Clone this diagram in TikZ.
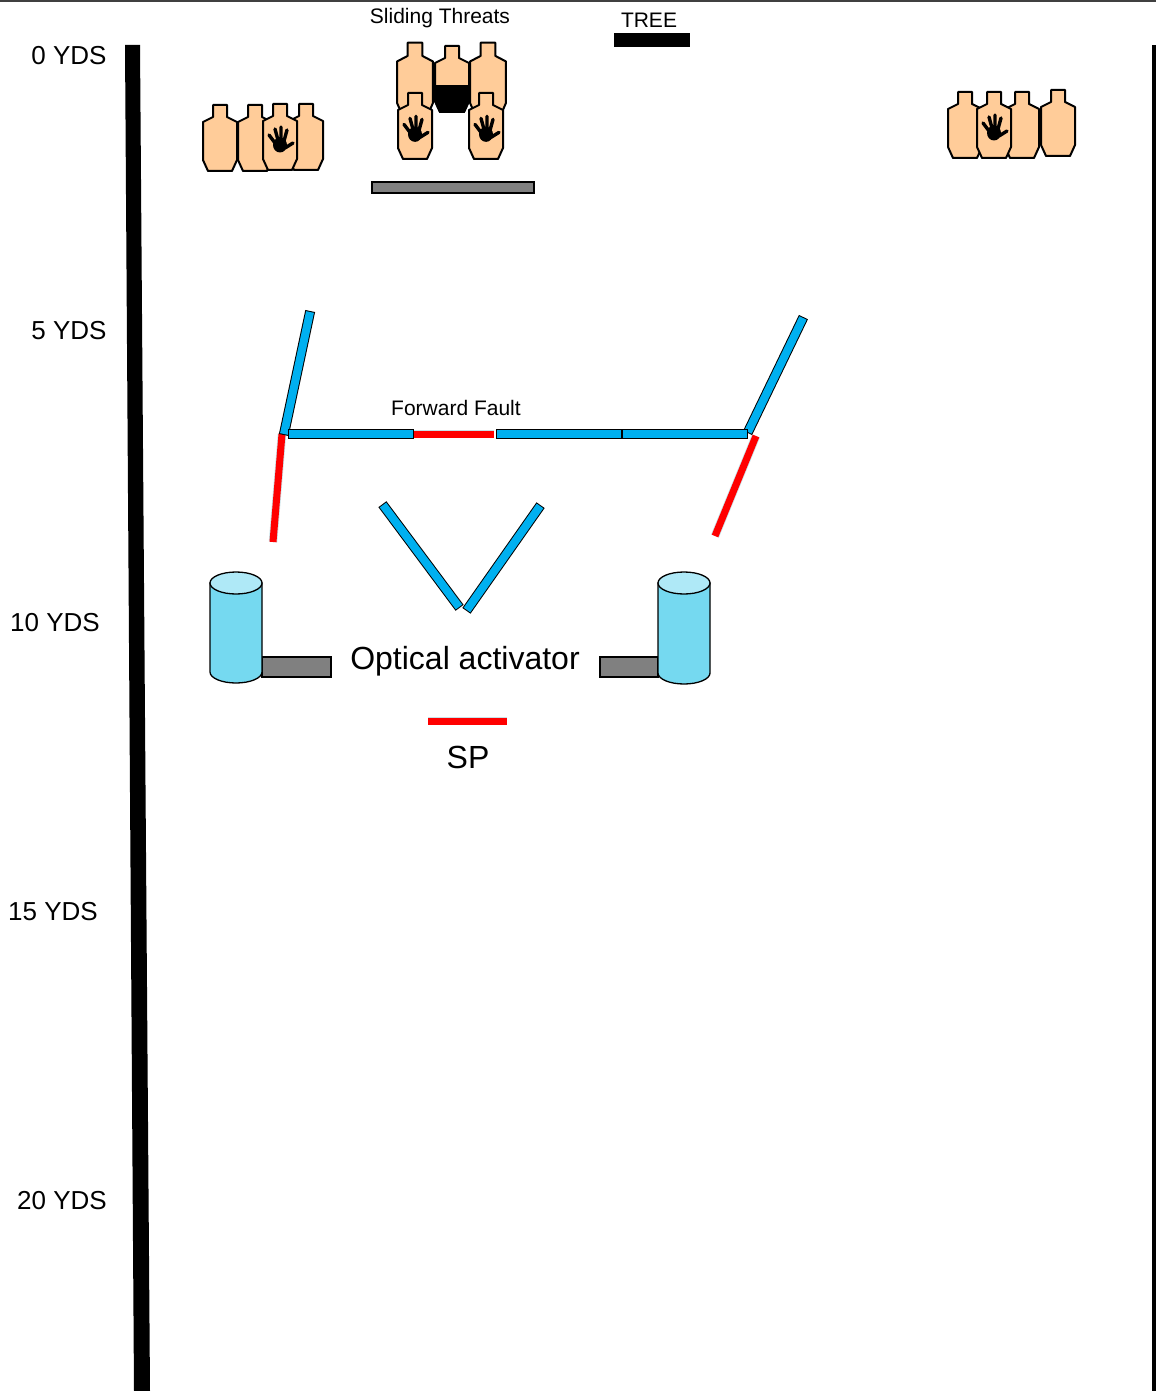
\documentclass[tikz,border=0pt]{standalone}
\usepackage{fontspec}
\setmainfont{Liberation Sans}

\definecolor{peach}{RGB}{255,204,153}
\definecolor{wallblue}{RGB}{0,176,240}
\definecolor{drumblue}{RGB}{117,217,240}
\definecolor{drumtop}{RGB}{175,233,247}
\definecolor{propgray}{RGB}{128,128,128}
\definecolor{redrim}{RGB}{200,226,232}

\begin{document}
\begin{tikzpicture}[x=1pt,y=-1pt]
        \tikzset{
        tgt/.style={draw=black, line width=2, line join=round},
        pics/target/.style={code={
          \draw[tgt, fill=#1] (-7,-33) -- (7,-33) -- (7,-21) -- (17,-16) -- (17,22) -- (12,33)
            -- (-12,33) -- (-17,22) -- (-17,-16) -- (-7,-21) -- cycle;}},
        pics/target/.default=peach,
        pics/hand/.style={code={
          \fill (0,5) ellipse [x radius=7, y radius=7.5];
          \draw[line width=3.4, line cap=round] (-5,3) -- (-11,-5) (-2,0) -- (-5,-11)
            (1,0) -- (1,-13) (4,1) -- (7,-10) (5,8) -- (13,3);}},
        pics/hand target/.style={code={\pic {target}; \pic at (0,3) {hand};}},
        pics/shot target/.style={code={
          \pic {target};
          \begin{scope}
            \clip (-20,6) rectangle (20,40);
            \pic {target=black};
          \end{scope}}},
        bwall/.style={wallblue, line width=8,
          preaction={draw=black, line width=10, line cap=rect, shorten <=4, shorten >=4}},
        rwall/.style={red, line width=7, preaction={draw=redrim, line width=8.5}},
        gbox/.style={fill=propgray, draw=black, line width=1.2},
        drum/.style={fill=drumblue, draw=black, line width=1.3},
        small/.style={font=\fontsize{21}{24}\selectfont},
        yds/.style={font=\fontsize{26}{30}\selectfont},
        big/.style={font=\fontsize{32}{36}\selectfont}
        }
        \fill[white] (0,0) rectangle (1156,1391);
        \useasboundingbox (0,0) rectangle (1156,1391);
        \draw[line width=1.5, black!75] (0,1) -- (1156,1);

        \fill[black] (125,45) -- (140,45) -- (150,1391) -- (134,1391) -- cycle;
        \fill[black] (1152,45) rectangle (1156,1391);

        \node[yds] (y0) at (69,56) {0 YDS};
        \node[yds] (y5) at (69,331) {5 YDS};
        \node[yds] (y10) at (55,623) {10 YDS};
        \node[yds] (y15) at (53,912) {15 YDS};
        \node[yds] (y20) at (62,1201) {20 YDS};

        \pic at (255,138) {target};
        \pic at (306,137) {target};
        \pic at (220,138) {target};
        \pic at (280,137) {hand target};

        \pic at (965,125) {target};
        \pic at (1022,125) {target};
        \pic at (994,125) {hand target};
        \pic at (1058,123) {target};

        \node[small] (st) at (440,18) {Sliding Threats};
        \pic[xscale=1.05, yscale=1.1] at (415,79) {target};
        \pic[xscale=1.05, yscale=1.1] at (488,79) {target};
        \pic[xscale=1.1, yscale=1.1] at (452,79) {shot target};
        \pic[xscale=1.05, yscale=1.12] at (415,126) {hand target};
        \pic[xscale=1.05, yscale=1.12] at (486,126) {hand target};
        \draw[gbox] (372,182) rectangle (534,193);

        \node[small] (tr) at (649,20) {TREE};
        \fill[black] (614,33) rectangle (690,47);

        \coordinate (lp) at (284,434);
        \coordinate (lt) at (310,312);
        \coordinate (lr) at (273,542);
        \coordinate (lc) at (282,434);
        \coordinate (rp) at (748,432);
        \coordinate (rt) at (803,318);
        \coordinate (rc) at (756,436);
        \coordinate (rr) at (715,536);
        \coordinate (h0) at (289,434);
        \coordinate (h1) at (413,434);
        \coordinate (f0) at (414,434);
        \coordinate (f1) at (494,434);
        \coordinate (h2) at (497,434);
        \coordinate (h3) at (621,434);
        \coordinate (h4) at (623,434);
        \coordinate (h5) at (747,434);
        \coordinate (v1) at (383,505);
        \coordinate (v2) at (459,607);
        \coordinate (v3) at (540,506);
        \coordinate (v4) at (467,610);

        \draw[rwall] (lc) -- (lr);
        \draw[rwall] (rc) -- (rr);
        \draw[rwall] (f0) -- (f1);
        \draw[bwall] (lp) -- (lt);
        \draw[bwall] (rp) -- (rt);
        \draw[bwall] (h0) -- (h1);
        \draw[bwall] (h2) -- (h3);
        \draw[bwall] (h4) -- (h5);
        \draw[bwall] (v1) -- (v2);
        \draw[bwall] (v3) -- (v4);
        \node[small] (ff) at (456,408) {Forward Fault};

        \draw[gbox] (262,657) rectangle (331,677);
        \draw[drum] (210,583) -- (210,672) arc[start angle=180, end angle=0, x radius=26, y radius=11] -- (262,583) -- cycle;
        \draw[drum, fill=drumtop] (236,583) ellipse [x radius=26, y radius=11];
        \draw[gbox] (600,657) rectangle (658,677);
        \draw[drum] (658,583) -- (658,673) arc[start angle=180, end angle=0, x radius=26, y radius=11] -- (710,583) -- cycle;
        \draw[drum, fill=drumtop] (684,583) ellipse [x radius=26, y radius=11];

        \node[big] (oa) at (465,661) {Optical activator};
        \coordinate (s0) at (428,721);
        \coordinate (s1) at (507,721);
        \draw[rwall] (s0) -- (s1);
        \node[big] (sp) at (468,757) {SP};
\end{tikzpicture}
\end{document}
